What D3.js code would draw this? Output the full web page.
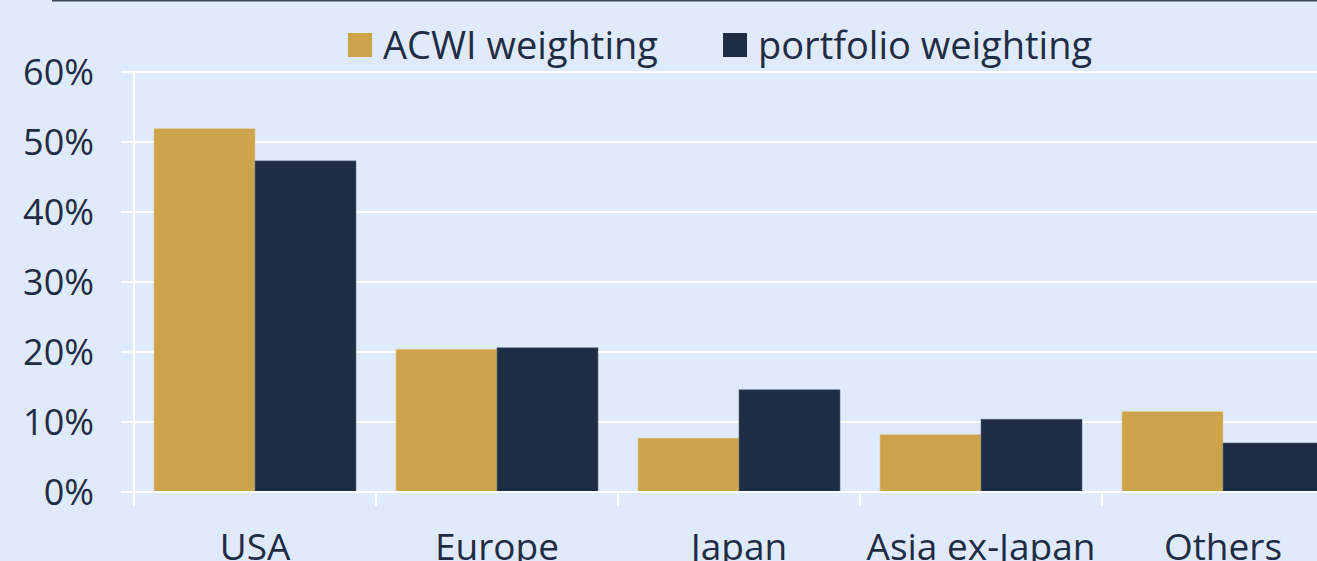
<!DOCTYPE html>
<html>
<head>
<meta charset="utf-8">
<script src="https://cdn.jsdelivr.net/npm/d3@7"></script>
<style>
  html, body { margin: 0; padding: 0; background: #dfeafd; overflow: hidden; }
  text { font-family: "Open Sans", sans-serif; fill: #1f2d44; }
</style>
</head>
<body>
<div id="chart"></div>
<script>
// ---------------- data ----------------
const regions = ["USA", "Europe", "Japan", "Asia ex-Japan", "Others"];
const seriesNames = ["ACWI weighting", "portfolio weighting"];
const acwi = [51.9, 20.4, 7.7, 8.2, 11.5];
const portfolio = [47.3, 20.6, 14.6, 10.4, 7.0];
const yTicks = [0, 10, 20, 30, 40, 50, 60];

const colors = ["#cda44c", "#1f2d44"];

// ---------------- svg ----------------
const width = 1317, height = 561;
const margin = {top: 72, left: 134, bottom: 69};

const svg = d3.select("#chart").append("svg")
    .attr("width", width)
    .attr("height", height);

svg.append("rect")
    .attr("width", width).attr("height", height)
    .attr("fill", "#dfeafd");

// top rule
svg.append("line")
    .attr("x1", 52).attr("x2", width)
    .attr("y1", 0.5).attr("y2", 0.5)
    .attr("stroke", "#3b4a60").attr("stroke-width", 2);

// ---------------- scales ----------------
const band = 242;
const x0 = d3.scaleBand()
    .domain(regions)
    .range([margin.left, margin.left + band * regions.length])
    .padding(0);

const x1 = d3.scaleBand()
    .domain(seriesNames)
    .range([20, band - 20])
    .padding(0);

const y = d3.scaleLinear()
    .domain([0, 60])
    .range([height - margin.bottom, margin.top]);

// gridlines
svg.append("g")
    .selectAll("line")
    .data(yTicks)
    .join("line")
    .attr("x1", 121).attr("x2", width)
    .attr("y1", d => y(d)).attr("y2", d => y(d))
    .attr("stroke", "#ffffff").attr("stroke-width", 2);

// vertical axis line
svg.append("line")
    .attr("x1", margin.left).attr("x2", margin.left)
    .attr("y1", y(60)).attr("y2", y(0) + 14)
    .attr("stroke", "#ffffff").attr("stroke-width", 2);

// y labels
svg.append("g")
    .selectAll("text")
    .data(yTicks)
    .join("text")
    .attr("x", 94)
    .attr("y", d => y(d))
    .attr("dy", "0.36em")
    .attr("text-anchor", "end")
    .attr("font-size", 36)
    .text(d => d + "%");

// ---------------- bars ----------------
const rows = regions.map((r, i) => ({region: r, values: [acwi[i], portfolio[i]]}));

svg.append("g")
    .selectAll("g")
    .data(rows)
    .join("g")
    .attr("transform", d => `translate(${x0(d.region)},0)`)
    .selectAll("rect")
    .data(d => d.values.map((v, j) => ({key: seriesNames[j], value: v, j: j})))
    .join("rect")
    .attr("x", d => x1(d.key))
    .attr("y", d => y(d.value))
    .attr("width", x1.bandwidth())
    .attr("height", d => y(0) - y(d.value))
    .attr("fill", d => colors[d.j])
    .attr("stroke", d => d.j === 0 ? "#e2c78a" : "#5a6a80")
    .attr("stroke-width", 0.6);

// x axis line + ticks
svg.append("line")
    .attr("x1", 121).attr("x2", width)
    .attr("y1", y(0)).attr("y2", y(0))
    .attr("stroke", "#ffffff").attr("stroke-width", 2);

svg.append("g")
    .selectAll("line")
    .data(regions.slice(1))
    .join("line")
    .attr("x1", d => x0(d)).attr("x2", d => x0(d))
    .attr("y1", y(0)).attr("y2", y(0) + 14)
    .attr("stroke", "#ffffff").attr("stroke-width", 2);

// x labels (cut by the bottom edge, as in the source image)
svg.append("g")
    .selectAll("text")
    .data(regions)
    .join("text")
    .attr("x", d => x0(d) + x0.bandwidth() / 2)
    .attr("y", 560)
    .attr("text-anchor", "middle")
    .attr("font-size", 37)
    .text(d => d);

// ---------------- legend ----------------
const legendX = [348, 723];
const legend = svg.append("g")
    .selectAll("g")
    .data(seriesNames)
    .join("g")
    .attr("transform", (d, i) => `translate(${legendX[i]},33)`);

legend.append("rect")
    .attr("width", 24).attr("height", 24)
    .attr("fill", (d, i) => colors[i]);

legend.append("text")
    .attr("x", 35)
    .attr("y", 12)
    .attr("dy", "0.36em")
    .attr("font-size", 38)
    .text(d => d);
</script>
</body>
</html>
